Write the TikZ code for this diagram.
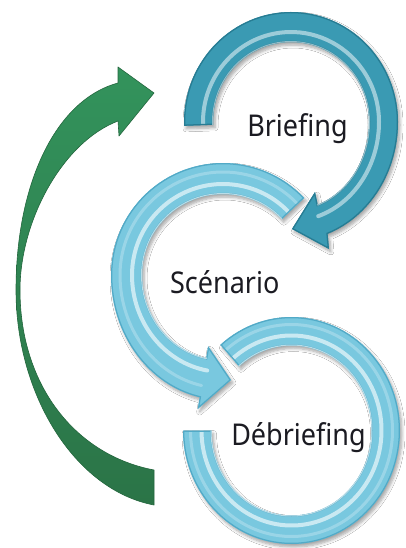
\documentclass[tikz,border=0pt]{standalone}
\usepackage{fontspec}
\newfontfamily\lblfont[FakeStretch=0.9]{Noto Sans}
\usetikzlibrary{calc,shadows.blur}
\definecolor{brief}{HTML}{3A9AB3}
\definecolor{briefdark}{HTML}{277C93}
\definecolor{lightband}{HTML}{79C8DF}
\definecolor{lightdark}{HTML}{52AAC7}
\definecolor{greentop}{HTML}{33935C}
\definecolor{greenbot}{HTML}{2B7447}
\definecolor{greenedge}{HTML}{23663D}
\definecolor{txt}{HTML}{1B1B22}
\tikzset{
  lbl/.style={font=\lblfont\fontsize{30}{36}\selectfont, text=txt, inner sep=0pt, anchor=base},
  bandshadow/.style={blur shadow={shadow xshift=2pt, shadow yshift=-3pt,
      shadow blur steps=6, shadow opacity=35, shadow blur radius=3pt}},
  shine/.style={white, opacity=#1, line cap=round},
}
% ring outlines (inner and outer edge, arrow head)
\def\briefpath{($(cB)+(178:107 and 110)$)
  arc[start angle=178,end angle=360,x radius=107,y radius=110]
  arc[start angle=0,end angle=70,x radius=107,y radius=119]
  -- (329,249) -- (292,229) -- (315,192)
  -- ($(cB)+(70:78 and 88)$)
  arc[start angle=70,end angle=0,x radius=78,y radius=88]
  arc[start angle=360,end angle=178,x radius=78,y radius=80] -- cycle}
\def\scenpath{($(cS)+(316.5:112 and 112)$)
  arc[start angle=316.5,end angle=180,x radius=112,y radius=112]
  arc[start angle=180,end angle=102,x radius=112,y radius=125]
  -- (197.7,409) -- (231,380) -- (208.2,346.3)
  -- ($(cS)+(102:81 and 85)$)
  arc[start angle=102,end angle=180,x radius=81,y radius=85]
  arc[start angle=180,end angle=316.5,x radius=81,y radius=81] -- cycle}
\def\debriefpath{($(cD)+(229:108.5 and 113.5)$)
  arc[start angle=229,end angle=540,x radius=108.5,y radius=113.5]
  -- ($(cD)+(540:80 and 85)$)
  arc[start angle=540,end angle=229,x radius=80,y radius=85] -- cycle}
\def\greenpath{(154,505) .. controls (75,490) and (16,395) .. (16,290)
  .. controls (16,185) and (55,100) .. (118,83)
  -- (118,67) -- (154,93) -- (119,136) -- (118,121)
  .. controls (63,142) and (20,220) .. (20,290)
  .. controls (20,385) and (75,455) .. (154,470) -- cycle}
\begin{document}
\begin{tikzpicture}[x=1pt,y=-1pt]
\useasboundingbox (0,0) rectangle (405,548);
\fill[white] (0,0) rectangle (405,548);
\coordinate (cB) at (291,122);
\coordinate (cS) at (223,275);
\coordinate (cD) at (291.5,430.5);

% Debriefing ring
\fill[lightband, bandshadow] \debriefpath;
\begin{scope}
  \clip \debriefpath;
  \draw[shine=.6, line width=4pt] ($(cD)+(229:90 and 95)$)
    arc[start angle=229,end angle=540,x radius=90,y radius=95];
  \draw[shine=.25, line width=3pt] ($(cD)+(229:101 and 106)$)
    arc[start angle=229,end angle=540,x radius=101,y radius=106];
  \draw[lightdark, line width=2.5pt] \debriefpath;
  \draw[shine=.6, line width=2pt] ($(cD)+(229:80 and 85)$)
    arc[start angle=229,end angle=540,x radius=80,y radius=85];
\end{scope}

% Scenario ring
\fill[lightband, bandshadow] \scenpath;
\begin{scope}
  \clip \scenpath;
  \draw[shine=.6, line width=4pt] ($(cS)+(316.5:91 and 91)$)
    arc[start angle=316.5,end angle=180,x radius=91,y radius=91]
    arc[start angle=180,end angle=100,x radius=91,y radius=97];
  \draw[shine=.25, line width=3pt] ($(cS)+(316.5:103 and 103)$)
    arc[start angle=316.5,end angle=180,x radius=103,y radius=103]
    arc[start angle=180,end angle=102,x radius=103,y radius=113];
  \draw[lightdark, line width=2.5pt] \scenpath;
  \draw[shine=.6, line width=2pt] ($(cS)+(316.5:81 and 81)$)
    arc[start angle=316.5,end angle=180,x radius=81,y radius=81]
    arc[start angle=180,end angle=102,x radius=81,y radius=85];
\end{scope}

% Briefing ring
\fill[brief, bandshadow] \briefpath;
\begin{scope}
  \clip \briefpath;
  \draw[shine=.5, line width=4pt] ($(cB)+(178:88 and 90)$)
    arc[start angle=178,end angle=360,x radius=88,y radius=90]
    arc[start angle=0,end angle=72,x radius=88,y radius=99];
  \draw[briefdark, line width=2.5pt] \briefpath;
  \draw[shine=.5, line width=2pt] ($(cB)+(178:78 and 80)$)
    arc[start angle=178,end angle=360,x radius=78,y radius=80]
    arc[start angle=0,end angle=70,x radius=78,y radius=88];
\end{scope}

% return arrow
\shade[top color=greentop, bottom color=greenbot] \greenpath;
\draw[greenedge, line width=0.6pt, line join=round] \greenpath;

% labels
\node[lbl] (tB) at (297.5,136.7) {Briefing};
\node[lbl] (tS) at (224.7,293.3) {Scénario};
\node[lbl] (tD) at (298.5,445) {Débriefing};
\end{tikzpicture}
\end{document}
